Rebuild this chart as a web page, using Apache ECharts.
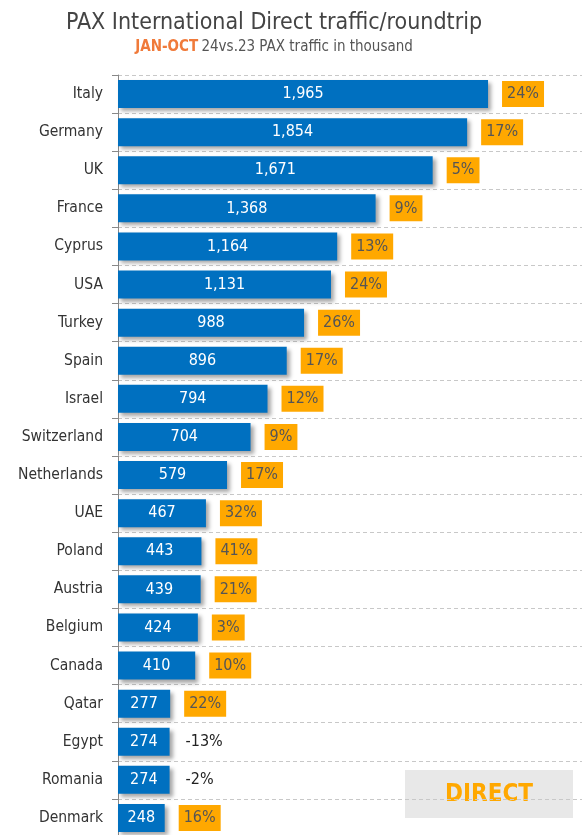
<!DOCTYPE html>
<html><head><meta charset="utf-8">
<script src="https://cdn.jsdelivr.net/npm/echarts@6/dist/echarts.min.js"></script>
<style>html,body{margin:0;padding:0;background:#fff}#c{width:582px;height:835px}</style>
</head><body><div id="c"></div>
<script>
const categories = ["Italy","Germany","UK","France","Cyprus","USA","Turkey","Spain","Israel","Switzerland","Netherlands","UAE","Poland","Austria","Belgium","Canada","Qatar","Egypt","Romania","Denmark"];
const pax = [1965,1854,1671,1368,1164,1131,988,896,794,704,579,467,443,439,424,410,277,274,274,248];
const growth = [24,17,5,9,13,24,26,17,12,9,17,32,41,21,3,10,22,-13,-2,16];

const FONT = "DejaVu Sans Condensed";
const chart = echarts.init(document.getElementById('c'), null, {renderer:'canvas'});
chart.setOption({
  backgroundColor:'#fff',
  animation:false,
  textStyle:{fontFamily:FONT},
  grid:{left:118, top:75, right:0, height:762, containLabel:false, outerBoundsMode:'none'},
  xAxis:{type:'value', min:0, max:2464, show:false},
  yAxis:{
    type:'category', data:categories, inverse:true,
    axisLine:{show:true,lineStyle:{color:'#888',width:1}},
    axisTick:{show:true,length:6,lineStyle:{color:'#888'}},
    axisLabel:{fontFamily:FONT,fontSize:15.5,color:'#333',margin:15},
    splitLine:{show:true,lineStyle:{type:[4,3],color:'#c8c8c8',width:1}}
  },
  series:[{
    type:'bar', data:pax, barWidth:28,
    itemStyle:{color:'#0070C0',shadowColor:'rgba(0,0,0,0.35)',shadowBlur:4,shadowOffsetX:3,shadowOffsetY:3},
    label:{show:true,position:'inside',color:'#fff',fontFamily:FONT,fontSize:16,
      formatter:p=>p.value.toLocaleString('en-US')}
  },{
    type:'bar', data:pax, barWidth:28, barGap:'-100%',
    itemStyle:{color:'rgba(0,0,0,0)'},
    silent:true,
    label:{show:true,position:'right',distance:14,
      formatter:p=>{const g=growth[p.dataIndex];return g<0?'{n|'+g+'%}':'{p|'+g+'%}';},
      rich:{
        p:{backgroundColor:'#FFA800',color:'#555',fontFamily:FONT,fontSize:16,padding:[5,5,5,5],lineHeight:18},
        n:{color:'#222',fontFamily:FONT,fontSize:16,padding:[5,2,5,2],lineHeight:18}
      }}
  }],
  graphic:[
    {type:'text',x:274,y:23,style:{text:'PAX International Direct traffic/roundtrip',fill:'#444',
      font:'23px "'+FONT+'"',align:'center',verticalAlign:'middle'}},
    {type:'text',x:274,y:47,style:{text:'{o|JAN-OCT} {g|24vs.23 PAX traffic in thousand}',align:'center',verticalAlign:'middle',
      rich:{
        o:{fontFamily:FONT,fontSize:15,fontWeight:'bold',fill:'#F07A3A'},
        g:{fontFamily:FONT,fontSize:15,fontWeight:'normal',fill:'#555'}
      }}},
    {type:'group', left:405, top:770,
    children:[
      {type:'rect',shape:{x:0,y:0,width:168,height:48},style:{fill:'#E8E8E8'}},
      {type:'text',x:84,y:25,style:{text:'DIRECT',fill:'#FFA800',font:'bold 24px "'+FONT+'"',align:'center',verticalAlign:'middle'}}
    ]
  }]
});
</script></body></html>
